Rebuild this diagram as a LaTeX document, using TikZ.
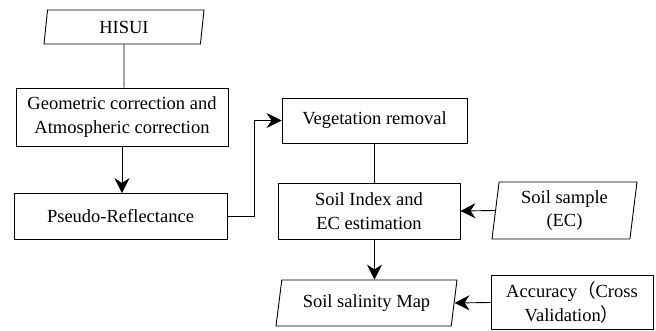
\documentclass[tikz,border=0pt]{standalone}
\usepackage{fontspec}
\setmainfont{Liberation Serif}
\newfontfamily\cjk{Noto Sans CJK SC}
\usetikzlibrary{shapes.geometric,arrows.meta}

\tikzset{
	box/.style={draw, rectangle, align=center, inner sep=0pt},
	io/.style={draw, trapezium, trapezium stretches body, align=center, inner sep=0pt},
	arr/.style={-{Stealth[length=15pt,width=15pt,inset=5pt]}}
}

\begin{document}
\begin{tikzpicture}[x=1pt, y=-1pt, line width=0.9pt, font=\fontsize{18.5}{23.5}\selectfont]
\useasboundingbox (0,0) rectangle (656,331);
\node[io, trapezium left angle=74, trapezium right angle=106, minimum width=160pt, minimum height=34pt] (hisui) at (124,27) {HISUI};
\node[box, minimum width=212pt, minimum height=58pt] (geo) at (122,117) {Geometric correction and\\Atmospheric correction};
\node[box, minimum width=213pt, minimum height=46pt] (pseudo) at (120.5,216.5) {Pseudo-Reflectance};
\node[box, minimum width=185pt, minimum height=45pt] (veg) at (374.5,120.5) {Vegetation removal};
\node[box, minimum width=182pt, minimum height=56pt] (soil) at (369,211) {Soil Index and\\EC estimation};
\node[io, trapezium left angle=80, trapezium right angle=100, minimum width=145pt, minimum height=57pt] (sample) at (564.5,210.5) {Soil sample\\(EC)};
\node[io, trapezium left angle=71, trapezium right angle=109, minimum width=181pt, minimum height=46pt] (map) at (366.5,303) {Soil salinity Map};
\node[box, minimum width=162pt, minimum height=54pt] (acc) at (572,302.5) {Accuracy{\cjk （}Cross\\Validation{\cjk ）}};

\draw (hisui) -- (hisui |- geo.north);
\draw[arr] (geo) -- (geo |- pseudo.north);
\draw[arr] (pseudo.east) -- ++(27,0) |- (veg.west);
\draw (veg.south) -- (veg.south |- soil.north);
\draw[arr] (veg.south |- soil.south) -- (veg.south |- map.north);
\draw[arr] (sample.west) -- (soil.east);
\draw[arr] (acc.west) -- (map.east);
\end{tikzpicture}
\end{document}
